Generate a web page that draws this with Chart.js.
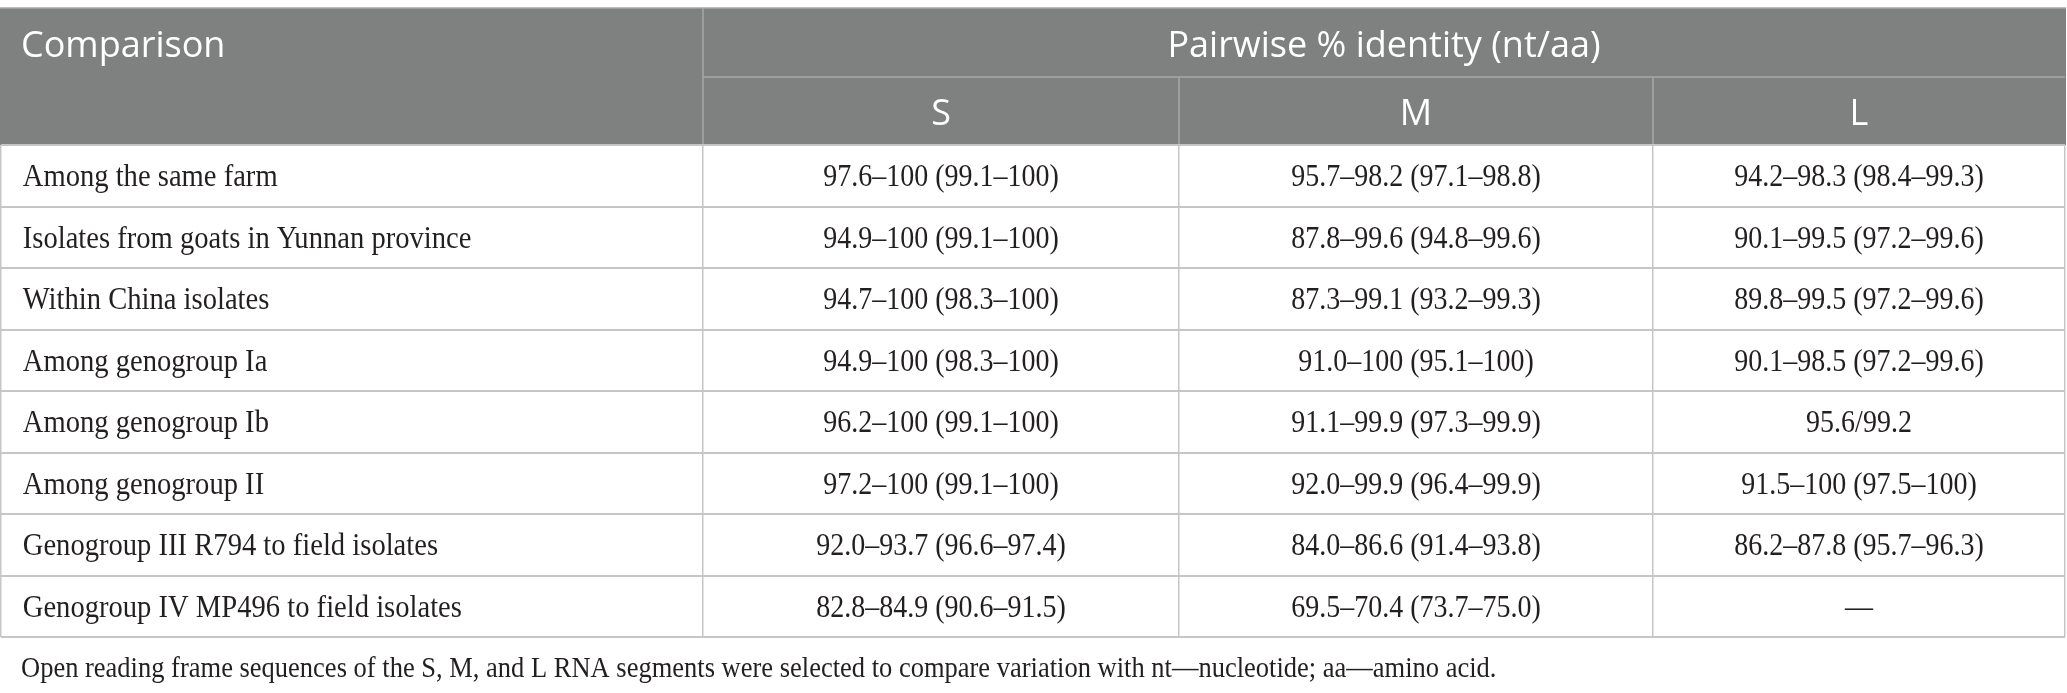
<!DOCTYPE html>
<html>
<head>
<meta charset="utf-8">
<script src="https://cdn.jsdelivr.net/npm/chart.js@4.4.1/dist/chart.umd.min.js"></script>
<style>
    html, body { margin: 0; padding: 0; background: #fff; }
    #wrap { width: 2067px; height: 693px; position: relative; }
</style>
</head>
<body>
<div id="wrap"><canvas id="tabela"></canvas></div>
<script>
// dados da tabela
const comparisons = [
    'Among the same farm',
    'Isolates from goats in Yunnan province',
    'Within China isolates',
    'Among genogroup Ia',
    'Among genogroup Ib',
    'Among genogroup II',
    'Genogroup III R794 to field isolates',
    'Genogroup IV MP496 to field isolates'
];
const segments = ['S', 'M', 'L'];
const identityS = ['97.6–100 (99.1–100)', '94.9–100 (99.1–100)', '94.7–100 (98.3–100)', '94.9–100 (98.3–100)',
    '96.2–100 (99.1–100)', '97.2–100 (99.1–100)', '92.0–93.7 (96.6–97.4)', '82.8–84.9 (90.6–91.5)'];
const identityM = ['95.7–98.2 (97.1–98.8)', '87.8–99.6 (94.8–99.6)', '87.3–99.1 (93.2–99.3)', '91.0–100 (95.1–100)',
    '91.1–99.9 (97.3–99.9)', '92.0–99.9 (96.4–99.9)', '84.0–86.6 (91.4–93.8)', '69.5–70.4 (73.7–75.0)'];
const identityL = ['94.2–98.3 (98.4–99.3)', '90.1–99.5 (97.2–99.6)', '89.8–99.5 (97.2–99.6)', '90.1–98.5 (97.2–99.6)',
    '95.6/99.2', '91.5–100 (97.5–100)', '86.2–87.8 (95.7–96.3)', '—'];
const firstHeader = 'Comparison';
const groupHeader = 'Pairwise % identity (nt/aa)';
const footnote = 'Open reading frame sequences of the S, M, and L RNA segments were selected to compare variation with nt—nucleotide; aa—amino acid.';

// layout (larguras das colunas em unidades do eixo x)
const COL_WIDTHS = [702, 476, 474, 412];
const HEADER_TOP = 8;
const HEADER_SPLIT = 77;
const HEADER_BG = '#7f8180';
const HEADER_LINE = '#a7a8a7';
const BODY_LINE = '#c6c6c6';
const TEXT_COLOR = '#231f20';
const SERIF = '"Liberation Serif", "DejaVu Serif", serif';
const SANS = '"Open Sans", "Noto Sans", sans-serif';
const SERIF_STRETCH = 1.13; // a fonte original é mais alta e estreita

const edges = COL_WIDTHS.reduce((acc, w) => { acc.push(acc[acc.length - 1] + w); return acc; }, [0]);
const columns = [comparisons, identityS, identityM, identityL];

function textoEsticado(ctx, txt, x, baseline, sy) {
    ctx.save();
    ctx.translate(x, baseline);
    ctx.scale(1, sy);
    ctx.fillText(txt, 0, 0);
    ctx.restore();
}

const tabelaPlugin = {
    id: 'tabela',
    beforeDraw(chart) {
        const { ctx, chartArea: area, scales: { x } } = chart;
        const px = v => x.getPixelForValue(v);
        ctx.save();
        // fundo do cabeçalho
        ctx.fillStyle = HEADER_BG;
        ctx.fillRect(area.left - 1, HEADER_TOP, area.right - area.left + 2, area.top - HEADER_TOP);
        ctx.strokeStyle = HEADER_LINE;
        ctx.lineWidth = 1.5;
        ctx.beginPath();
        ctx.moveTo(area.left - 1, HEADER_TOP); ctx.lineTo(area.right + 1, HEADER_TOP);
        ctx.moveTo(px(edges[1]), HEADER_TOP); ctx.lineTo(px(edges[1]), area.top);
        ctx.moveTo(px(edges[1]), HEADER_SPLIT); ctx.lineTo(px(edges[4]), HEADER_SPLIT);
        ctx.moveTo(px(edges[2]), HEADER_SPLIT); ctx.lineTo(px(edges[2]), area.top);
        ctx.moveTo(px(edges[3]), HEADER_SPLIT); ctx.lineTo(px(edges[3]), area.top);
        ctx.stroke();

        // textos do cabeçalho
        ctx.fillStyle = '#ffffff';
        ctx.font = '36px ' + SANS;
        ctx.textBaseline = 'alphabetic';
        const b1 = (HEADER_TOP + HEADER_SPLIT) / 2 + 14.5;
        const b2 = (HEADER_SPLIT + area.top) / 2 + 14;
        ctx.textAlign = 'left';
        ctx.fillText(firstHeader, px(edges[0]) + 20, b1);
        ctx.textAlign = 'center';
        ctx.fillText(groupHeader, (px(edges[1]) + px(edges[4])) / 2, b1);
        segments.forEach((s, i) => {
            ctx.fillText(s, (px(edges[i + 1]) + px(edges[i + 2])) / 2, b2);
        });
        ctx.restore();
    },
    afterDatasetsDraw(chart) {
        const { ctx } = chart;
        ctx.save();
        ctx.fillStyle = TEXT_COLOR;
        ctx.textBaseline = 'alphabetic';
        columns.forEach((col, ci) => {
            const meta = chart.getDatasetMeta(ci);
            meta.data.forEach((bar, ri) => {
                const { x, base, y } = bar.getProps(['x', 'base', 'y'], true);
                if (ci === 0) {
                    ctx.font = '28.6px ' + SERIF;
                    ctx.textAlign = 'left';
                    textoEsticado(ctx, col[ri], Math.min(x, base) + 21, y + 10.5, SERIF_STRETCH);
                } else {
                    ctx.font = '28px ' + SERIF;
                    ctx.textAlign = 'center';
                    textoEsticado(ctx, col[ri], (x + base) / 2, y + 10.5, SERIF_STRETCH);
                }
            });
        });
        ctx.restore();
    },
    afterDraw(chart) {
        const { ctx, chartArea: area } = chart;
        ctx.save();
        ctx.fillStyle = TEXT_COLOR;
        ctx.font = '26.5px ' + SERIF;
        ctx.textAlign = 'left';
        ctx.textBaseline = 'alphabetic';
        textoEsticado(ctx, footnote, area.left + 20, area.bottom + 40, SERIF_STRETCH);
        ctx.restore();
    }
};

new Chart(document.getElementById('tabela'), {
    type: 'bar',
    data: {
        labels: comparisons,
        datasets: columns.map((col, ci) => ({
            data: col.map(() => [edges[ci], edges[ci + 1]]),
            backgroundColor: 'rgba(0,0,0,0)',
            borderWidth: 0,
            grouped: false,
            barPercentage: 1,
            categoryPercentage: 1
        }))
    },
    options: {
        indexAxis: 'y',
        responsive: true,
        maintainAspectRatio: false,
        animation: false,
        events: [],
        layout: { padding: { top: 145, bottom: 56, left: 1, right: 2 } },
        scales: {
            x: {
                type: 'linear',
                min: 0,
                max: edges[edges.length - 1],
                afterBuildTicks: scale => { scale.ticks = edges.map(v => ({ value: v })); },
                ticks: { display: false },
                border: { display: false },
                grid: { color: BODY_LINE, lineWidth: 1.5, drawTicks: false }
            },
            y: {
                type: 'category',
                ticks: { display: false },
                border: { display: false },
                grid: { offset: true, color: BODY_LINE, lineWidth: 2, drawTicks: false }
            }
        },
        plugins: { legend: { display: false }, tooltip: { enabled: false } }
    },
    plugins: [tabelaPlugin]
});
</script>
</body>
</html>
